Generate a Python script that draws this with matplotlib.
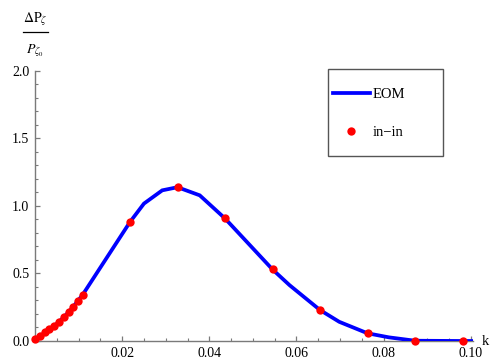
import numpy as np
import matplotlib
matplotlib.use('Agg')
import matplotlib.pyplot as plt
from matplotlib.lines import Line2D
from matplotlib.patches import Rectangle
from matplotlib.ticker import MultipleLocator, FixedLocator


###############################################################################
# values
k_eom = [0.0, 0.0022, 0.0044, 0.0066, 0.0087, 0.0109, 0.0218, 0.0250, 0.0292,
         0.0327, 0.0378, 0.0436, 0.0545, 0.0584, 0.0654, 0.0698, 0.0763,
         0.0812, 0.0872, 0.0981, 0.1005]
dp_eom = [0.0, 0.06, 0.11, 0.175, 0.25, 0.34, 0.880, 1.016, 1.114,
          1.137, 1.077, 0.906, 0.529, 0.413, 0.229, 0.142, 0.057,
          0.027, 0.002, 0.0, 0.0]

k_inin = [0.0, 0.0011, 0.0022, 0.0033, 0.0044, 0.0055, 0.0066, 0.0077, 0.0087,
          0.0098, 0.0109, 0.0218, 0.0327, 0.0436, 0.0545, 0.0654, 0.0763,
          0.0872, 0.0981]
dp_inin = [0.015, 0.039, 0.064, 0.089, 0.113, 0.142, 0.179, 0.214, 0.253,
           0.297, 0.339, 0.880, 1.137, 0.906, 0.529, 0.229, 0.057,
           0.002, 0.0]

x_major = [0.02, 0.04, 0.06, 0.08, 0.10]
x_labels = ['0.02', '0.04', '0.06', '0.08', '0.10']
y_major = [0.0, 0.5, 1.0, 1.5, 2.0]
y_labels = ['0.0', '0.5', '1.0', '1.5', '2.0']
###############################################################################

serif = ['Liberation Serif', 'DejaVu Serif']
plt.rcParams['mathtext.fontset'] = 'stix'
axis_grey = '#7a7a7a'

fig = plt.figure(figsize=(4.99, 3.62), dpi=100)
ax = fig.add_axes([35/499, 1-341/362, (473-35)/499, (341-70.5)/362])

ax.plot(k_eom, dp_eom, color='#0000ff', linewidth=2.7, solid_joinstyle='miter',
        label='EOM', zorder=3)
ax.plot(k_inin, dp_inin, linestyle='none', marker='o', markersize=6,
        color='#ff0000', markeredgewidth=0, label='in\u2212in', zorder=4,
        clip_on=False)

ax.set_xlim(0, 0.1005)
ax.set_ylim(0, 2.0)

for side in ['top', 'right']:
    ax.spines[side].set_visible(False)
for side in ['left', 'bottom']:
    ax.spines[side].set_color(axis_grey)
    ax.spines[side].set_linewidth(1.0)

ax.xaxis.set_major_locator(FixedLocator(x_major))
ax.set_xticklabels(x_labels)
ax.xaxis.set_minor_locator(MultipleLocator(0.005))
ax.yaxis.set_major_locator(FixedLocator(y_major))
ax.set_yticklabels(y_labels)
ax.yaxis.set_minor_locator(MultipleLocator(0.1))

ax.tick_params(axis='both', which='major', direction='in', length=3.8,
               width=0.9, color=axis_grey, labelsize=10, pad=4)
ax.tick_params(axis='both', which='minor', direction='in', length=2.2,
               width=0.8, color=axis_grey)
for lab in ax.get_xticklabels() + ax.get_yticklabels():
    lab.set_family(serif)

# legend, with a hand-placed frame like the original
leg = ax.legend(loc='center left', bbox_to_anchor=(332.7/499, 1-113.5/362),
                bbox_transform=fig.transFigure, frameon=False, borderpad=0,
                borderaxespad=0, handlelength=2.56, handletextpad=0.16,
                labelspacing=1.75, prop={'family': serif, 'size': 10.5})
fig.patches.append(Rectangle((328/499, 1-156/362), 115.3/499, 87/362,
                             transform=fig.transFigure, fill=False,
                             edgecolor='#555555', linewidth=1.0))

# axis labels
fig.text(485/499, 1-341.5/362, 'k', family=serif, fontsize=10.5,
         ha='center', va='center')
fig.text(35/499, 1-19/362, r'$\Delta\mathrm{P}_{\zeta}$', fontsize=10,
         ha='center', va='center')
fig.lines.append(Line2D([22.7/499, 47.7/499], [1-32.3/362, 1-32.3/362],
                        transform=fig.transFigure, color='black',
                        linewidth=0.9))
fig.text(35/499, 1-51/362, r'$P_{\zeta_0}$', fontsize=10,
         ha='center', va='center')

plt.savefig('out.png', dpi=100)
plt.close()
